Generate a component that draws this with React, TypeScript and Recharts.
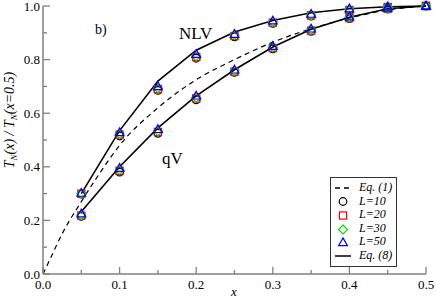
import { ComposedChart, Customized, Legend, Line, Scatter, XAxis, YAxis } from 'recharts';

const FRAME = '#7f7f7f';
const FONT = 'Liberation Serif, DejaVu Serif, serif';

// x positions of the simulation points
const xs = [0.05, 0.1, 0.15, 0.2, 0.25, 0.3, 0.35, 0.4, 0.45, 0.5];

// Eq. (8), NLV branch and qV branch
const eq8Nlv = [0.3, 0.535, 0.72, 0.835, 0.903, 0.946, 0.975, 0.99, 0.997, 1.0];
const eq8Qv = [0.232, 0.4, 0.545, 0.665, 0.762, 0.847, 0.913, 0.958, 0.99, 1.0];

// Eq. (1), dashed
const eq1X = [0, 0.01, 0.025, 0.05, 0.075, 0.1, 0.15, 0.2, 0.25, 0.3, 0.35, 0.4, 0.45, 0.5];
const eq1Y = [0, 0.06, 0.15, 0.27, 0.38, 0.48, 0.62, 0.725, 0.8, 0.865, 0.915, 0.955, 0.985, 1.0];

// simulation results, NLV then qV
const nlv10 = [0.298, 0.515, 0.685, 0.805, 0.885, 0.935, 0.962, 0.983, 0.995, 1.0];
const nlv20 = [0.3, 0.52, 0.69, 0.81, 0.888, 0.938, 0.965, 0.985, 0.996, 1.0];
const nlv30 = [0.3, 0.522, 0.693, 0.813, 0.891, 0.941, 0.967, 0.987, 0.997, 1.0];
const nlv50 = [0.302, 0.528, 0.7, 0.82, 0.895, 0.945, 0.97, 0.99, 0.998, 1.0];
const qv10 = [0.215, 0.38, 0.525, 0.65, 0.752, 0.84, 0.905, 0.953, 0.988, 1.0];
const qv20 = [0.218, 0.385, 0.53, 0.655, 0.755, 0.843, 0.908, 0.955, 0.99, 1.0];
const qv30 = [0.22, 0.388, 0.533, 0.658, 0.758, 0.846, 0.911, 0.957, 0.991, 1.0];
const qv50 = [0.225, 0.395, 0.54, 0.665, 0.762, 0.85, 0.915, 0.96, 0.993, 1.0];

const xTicks = [0, 0.05, 0.1, 0.15, 0.2, 0.25, 0.3, 0.35, 0.4, 0.45, 0.5];
const yTicks = [0, 0.1, 0.2, 0.3, 0.4, 0.5, 0.6, 0.7, 0.8, 0.9, 1.0];

const pts = (x: number[], y: number[]) => x.map((v, i) => ({ x: v, y: y[i] }));
const both = (a: number[], b: number[]) => [...pts(xs, a), ...pts(xs, b)];

const series = [
  { name: 'L=10', color: '#000000', shape: 'circle', data: both(nlv10, qv10) },
  { name: 'L=20', color: '#ff0000', shape: 'square', data: both(nlv20, qv20) },
  { name: 'L=30', color: '#00dd00', shape: 'diamond', data: both(nlv30, qv30) },
  { name: 'L=50', color: '#0000ff', shape: 'triangle', data: both(nlv50, qv50) },
];

function marker(kind: string, cx: number, cy: number, color: string) {
  const sw = 1.2;
  if (kind === 'circle') return <circle cx={cx} cy={cy} r={3.8} fill="none" stroke={color} strokeWidth={sw} />;
  if (kind === 'square')
    return <rect x={cx - 3.6} y={cy - 3.6} width={7.2} height={7.2} fill="none" stroke={color} strokeWidth={sw} />;
  if (kind === 'diamond')
    return (
      <polygon
        points={`${cx},${cy - 4.5} ${cx + 4.5},${cy} ${cx},${cy + 4.5} ${cx - 4.5},${cy}`}
        fill="none"
        stroke={color}
        strokeWidth={sw}
      />
    );
  return (
    <polygon
      points={`${cx},${cy - 4.6} ${cx + 4.4},${cy + 3.2} ${cx - 4.4},${cy + 3.2}`}
      fill="none"
      stroke={color}
      strokeWidth={sw}
    />
  );
}

const labelStyle = { fontFamily: FONT, fontSize: 13, fill: '#000' };

const BottomTick = ({ x, y, payload, index }: any) => {
  const major = index % 2 === 0;
  return (
    <g>
      <line x1={x} x2={x} y1={y} y2={y - (major ? 7 : 4)} stroke={FRAME} strokeWidth={1.3} />
      {major && (
        <text x={x} y={y + 15} textAnchor="middle" style={labelStyle}>
          {payload.value.toFixed(1)}
        </text>
      )}
    </g>
  );
};

const TopTick = ({ x, y, index }: any) => (
  <line x1={x} x2={x} y1={y} y2={y + (index % 2 === 0 ? 7 : 4)} stroke={FRAME} strokeWidth={1.3} />
);

const LeftTick = ({ x, y, payload, index }: any) => {
  const major = index % 2 === 0;
  return (
    <g>
      <line x1={x} x2={x + (major ? 7 : 4)} y1={y} y2={y} stroke={FRAME} strokeWidth={1.3} />
      {major && (
        <text x={x - 3} y={y + 4.5} textAnchor="end" style={labelStyle}>
          {payload.value.toFixed(1)}
        </text>
      )}
    </g>
  );
};

const RightTick = ({ x, y, index }: any) => (
  <line x1={x} x2={x - (index % 2 === 0 ? 7 : 4)} y1={y} y2={y} stroke={FRAME} strokeWidth={1.3} />
);

const Annotations = () => (
  <g style={{ fontFamily: FONT }}>
    <text x={95} y={34} style={{ fontFamily: FONT, fontSize: 14 }}>b)</text>
    <text x={179} y={39} style={{ fontFamily: FONT, fontSize: 17 }}>NLV</text>
    <text x={162} y={164} style={{ fontFamily: FONT, fontSize: 17 }}>qV</text>
    <text
      transform="translate(14,120) rotate(-90)"
      textAnchor="middle"
      style={{ fontFamily: FONT, fontSize: 14, fontStyle: 'italic' }}
    >
      T<tspan fontSize={9} dy={3}>N</tspan>
      <tspan dy={-3}>(x) / T</tspan>
      <tspan fontSize={9} dy={3}>N</tspan>
      <tspan dy={-3}>(x=0.5)</tspan>
    </text>
    <text x={234} y={296} textAnchor="middle" style={{ fontFamily: FONT, fontSize: 13, fontStyle: 'italic' }}>
      x
    </text>
  </g>
);

const legendRows = [
  { label: 'Eq. (1)', kind: 'dash', color: '#000' },
  ...series.map((s) => ({ label: s.name, kind: s.shape, color: s.color })),
  { label: 'Eq. (8)', kind: 'line', color: '#000' },
];

const LegendBox = () => (
  <div
    style={{
      width: 67,
      height: 90,
      border: '1px solid #333',
      background: '#fff',
      boxSizing: 'border-box',
      paddingTop: 3,
      fontFamily: FONT,
      fontSize: 12,
      fontStyle: 'italic',
      lineHeight: '13.6px',
    }}
  >
    {legendRows.map((r) => (
      <div key={r.label} style={{ display: 'flex', alignItems: 'center', height: 13.6 }}>
        <svg width={26} height={12} style={{ flex: 'none' }}>
          {r.kind === 'dash' && <line x1={4} x2={20} y1={6} y2={6} stroke="#000" strokeWidth={1.3} strokeDasharray="5 4" />}
          {r.kind === 'line' && <line x1={4} x2={20} y1={6} y2={6} stroke="#000" strokeWidth={1.5} />}
          {r.kind !== 'dash' && r.kind !== 'line' && marker(r.kind, 12, 6.5, r.color)}
        </svg>
        <span style={{ marginLeft: 2, whiteSpace: 'nowrap' }}>{r.label}</span>
      </div>
    ))}
  </div>
);

export default function App() {
  return (
    <div style={{ position: 'fixed', left: 0, top: 0, background: '#fff', fontFamily: FONT }}>
      <ComposedChart width={436} height={300} margin={{ top: 6, right: 10, bottom: 0, left: 0 }}>
        <XAxis
          dataKey="x"
          type="number"
          domain={[0, 0.5]}
          ticks={xTicks}
          interval={0}
          height={26}
          tickSize={0}
          tickMargin={0}
          stroke={FRAME}
          strokeWidth={1.5}
          tick={<BottomTick />}
        />
        <XAxis
          xAxisId="top"
          orientation="top"
          dataKey="x"
          type="number"
          domain={[0, 0.5]}
          ticks={xTicks}
          interval={0}
          height={0}
          tickSize={0}
          tickMargin={0}
          stroke={FRAME}
          strokeWidth={1.5}
          tick={<TopTick />}
        />
        <YAxis
          type="number"
          domain={[0, 1]}
          ticks={yTicks}
          interval={0}
          width={43}
          tickSize={0}
          tickMargin={0}
          stroke={FRAME}
          strokeWidth={1.5}
          tick={<LeftTick />}
        />
        <YAxis
          yAxisId="right"
          orientation="right"
          type="number"
          domain={[0, 1]}
          ticks={yTicks}
          interval={0}
          width={0}
          tickSize={0}
          tickMargin={0}
          stroke={FRAME}
          strokeWidth={1.5}
          tick={<RightTick />}
        />
        <Line
          data={pts(eq1X, eq1Y)}
          dataKey="y"
          type="monotone"
          stroke="#000"
          strokeWidth={1.2}
          strokeDasharray="5 4"
          dot={false}
          isAnimationActive={false}
        />
        <Line data={pts(xs, eq8Nlv)} dataKey="y" type="linear" stroke="#000" strokeWidth={1.6} dot={false} isAnimationActive={false} />
        <Line data={pts(xs, eq8Qv)} dataKey="y" type="linear" stroke="#000" strokeWidth={1.6} dot={false} isAnimationActive={false} />
        {series.map((s) => (
          <Scatter
            key={s.name}
            name={s.name}
            data={s.data}
            dataKey="y"
            isAnimationActive={false}
            shape={(p: any) => marker(s.shape, p.cx, p.cy, s.color)}
          />
        ))}
        <Customized component={Annotations} />
        <Legend
          layout="vertical"
          align="center"
          verticalAlign="middle"
          wrapperStyle={{ left: 330, top: 177, width: 67 }}
          content={<LegendBox />}
        />
      </ComposedChart>
    </div>
  );
}
